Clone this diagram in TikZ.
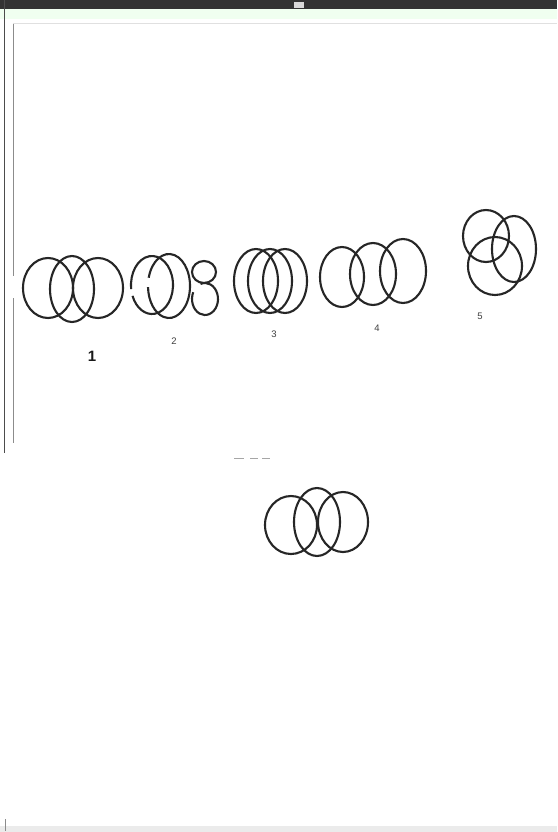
\documentclass[tikz,border=0pt]{standalone}
\usepackage{fontspec}
\setsansfont{Liberation Sans}
\begin{document}
\begin{tikzpicture}[x=1pt,y=-1pt,
  ring/.style={draw=black!85,line width=2.1pt},
  numlabel/.style={font=\sffamily\fontsize{9.5}{9.5}\selectfont,text=black!75,inner sep=0pt},
  biglabel/.style={font=\sffamily\bfseries\fontsize{15}{15}\selectfont,text=black!90,inner sep=0pt},
  scanbar/.style={fill=black!80,draw=none},
  scanline/.style={draw=black!45,line width=0.6pt}]
\useasboundingbox (0,0) rectangle (557,832);
\fill[white] (0,0) rectangle (557,832);
% scan artefacts
\fill[scanbar] (0,0) rectangle (557,9);
\fill[black!15] (294,2) rectangle (304,8);
\fill[green!6!white] (0,9) rectangle (557,19);
\draw[draw=black!70,line width=1pt] (4.5,0) -- (4.5,453);
\draw[scanline] (13,23) -- (13,276);
\draw[scanline] (13,298) -- (13,443);
\draw[draw=black!12,line width=0.5pt] (13,23) -- (557,23);
\fill[black!8] (0,826) rectangle (557,832);
\draw[draw=black!45,line width=1pt] (5,819) -- (5,831);
\draw[draw=black!35,line width=0.6pt] (234,458) -- (244,458) (250,458) -- (258,458) (262,458) -- (270,458);
% figure 1
\draw[ring] (48,288) ellipse [x radius=25,y radius=30];
\draw[ring] (72,289) ellipse [x radius=22,y radius=33];
\draw[ring] (98,288) ellipse [x radius=25,y radius=30];
\node[biglabel] (l1) at (92,356) {1};
% figure 2
\draw[ring] (152,285) ++(172:21 and 29) arc[start angle=172,end angle=518,x radius=21,y radius=29];
\draw[ring] (169,286) ++(195:21 and 32) arc[start angle=195,end angle=538,x radius=21,y radius=32];
\draw[ring] (204,272) ellipse [x radius=12,y radius=11];
\draw[ring] (205,299) ++(250:13 and 16) arc[start angle=250,end angle=565,x radius=13,y radius=16];
\node[numlabel] (l2) at (174,341) {2};
% figure 3
\draw[ring] (256,281) ellipse [x radius=22,y radius=32];
\draw[ring] (270,281) ellipse [x radius=22,y radius=32];
\draw[ring] (285,281) ellipse [x radius=22,y radius=32];
\node[numlabel] (l3) at (274,334) {3};
% figure 4
\draw[ring] (342,277) ellipse [x radius=22,y radius=30];
\draw[ring] (373,274) ellipse [x radius=23,y radius=31];
\draw[ring] (403,271) ellipse [x radius=23,y radius=32];
\node[numlabel] (l4) at (377,328) {4};
% figure 5
\draw[ring] (486,236) ellipse [x radius=23,y radius=26];
\draw[ring] (514,249) ellipse [x radius=22,y radius=33];
\draw[ring] (495,266) ellipse [x radius=27,y radius=29];
\node[numlabel] (l5) at (480,316) {5};
% lower figure
\draw[ring] (291,525) ellipse [x radius=26,y radius=29];
\draw[ring] (317,522) ellipse [x radius=23,y radius=34];
\draw[ring] (343,522) ellipse [x radius=25,y radius=30];
\end{tikzpicture}
\end{document}
